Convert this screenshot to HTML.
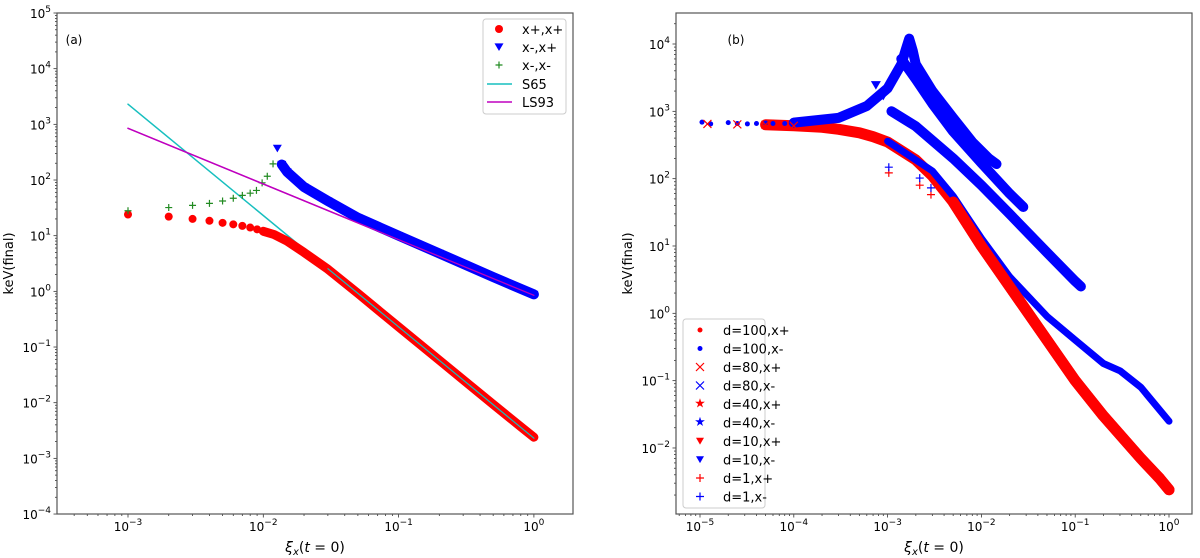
<!DOCTYPE html>
<html><head><meta charset="utf-8">
<style>
html,body{margin:0;padding:0;background:#fff;}
svg{display:block;font-family:"DejaVu Sans","Liberation Sans",sans-serif;}
</style></head>
<body>
<svg id="fig" width="1200" height="558" viewBox="0 0 1200 558" xmlns="http://www.w3.org/2000/svg"></svg>
<script>
// ---------- Panel (a) data ----------
const redX = [0.001,0.002,0.003,0.004,0.005,0.006,0.007,0.008,0.009,0.01,0.012,0.015,0.02,0.03,0.05,0.1,0.2,0.5,0.8,1];
const redY = [24,22,20,18.5,17,16,15,14,13,12,10.5,8,5,2.5,0.92,0.23,0.058,0.0093,0.0037,0.0024];
const greenX = [0.001,0.002,0.003,0.004,0.005,0.006,0.007,0.008,0.0089,0.0098,0.0107,0.0118];
const greenY = [28,32,35,38,42,47,53,58,65,89,117,195];
const blueX = [0.0127,0.0137,0.015,0.02,0.03,0.05,0.1,0.2,0.5,1];
const blueY = [370,190,140,75,42,21,10,4.8,1.8,0.88];
const s65X = [0.001,1];
const s65Y = [2300,0.0023];
const ls93X = [0.001,1];
const ls93Y = [850,0.85];
const aYTicks = [-4,-3,-2,-1,0,1,2,3,4,5];
const aXTicks = [-3,-2,-1,0];

// ---------- Panel (b) data ----------
const flatX = [1.05e-5,1.3e-5,2e-5,2.5e-5,3.2e-5,4e-5,5e-5,6e-5,8e-5,1e-4];
const flatY = [690,650,680,660,650,660,670,660,660,670];
const redBX = [1.2e-5,2.5e-5,5e-5,1e-4,2e-4,3e-4,5e-4,7e-4,1e-3,2e-3,3e-3,5e-3,1e-2,2e-2,5e-2,0.1,0.2,0.5,0.8,1];
const redBY = [650,640,630,610,580,540,480,420,350,190,110,45,10,2.5,0.4,0.1,0.03,0.007,0.0035,0.0024];
const b1X = [1e-4,3e-4,6e-4,1e-3,1.4e-3,1.55e-3,1.7e-3,1.85e-3,2e-3,3e-3,5e-3,8e-3,1.2e-2,1.45e-2];
const b1Y = [680,800,1200,2200,5000,8000,12000,8000,5000,2000,800,350,200,165];
const b2X = [1.4e-3,2e-3,3e-3,5e-3,1e-2,2e-2,2.8e-2];
const b2Y = [6000,3000,1300,500,170,60,38];
const b3X = [1.1e-3,2e-3,5e-3,1e-2,2e-2,5e-2,0.1,0.115];
const b3Y = [1000,600,200,80,30,8,3,2.5];
const triX = [7.5e-4,9e-4];
const triY = [2450,1700];
const b4X = [1e-3,3e-3,5e-3,1e-2,2e-2,5e-2,0.1,0.2,0.3,0.5,1];
const b4Y = [360,130,55,13,3.5,0.9,0.4,0.18,0.14,0.08,0.025];
const plusBlueX = [1.03e-3,2.2e-3,2.9e-3];
const plusBlueY = [148,102,73];
const plusRedX = [1.03e-3,2.2e-3,2.9e-3];
const plusRedY = [122,80,58];
const bYTicks = [-2,-1,0,1,2,3,4];
const bXTicks = [-5,-4,-3,-2,-1,0];

const NS = "http://www.w3.org/2000/svg";
const fig = document.getElementById('fig');
function el(tag, attrs, parent){ const e=document.createElementNS(NS,tag); for(const k in attrs) e.setAttribute(k,attrs[k]); (parent||fig).appendChild(e); return e; }

const A = {x0:57,x1:573,y0:13,y1:514, xs:v=>128+(Math.log10(v)+3)*135.3, ys:v=>13+(5-Math.log10(v))*55.67, xl:-3.52, xh:0.29, yl:-4, yh:5};
const B = {x0:676,x1:1192,y0:13,y1:514, xs:v=>700+(Math.log10(v)+5)*93.8, ys:v=>44+(4-Math.log10(v))*67.33, xl:-5.256, xh:0.245, yl:-2.98, yh:4.46};

function sup(g, x, y, exp, anchor){
  const t = el('text',{x:x,y:y,'font-size':12,'text-anchor':anchor,fill:'#000'},g);
  t.appendChild(document.createTextNode('10'));
  const s = el('tspan',{dy:-6,'font-size':9},t); s.textContent = String(exp).replace('-','\u2212');
  return t;
}
function axes(P, name, xticks, yticks){
  const g = el('g',{});
  
  
  for(let d=Math.floor(P.xl); d<=Math.ceil(P.xh); d++){
    for(let m=1;m<10;m++){
      const lv = d+Math.log10(m); if(lv<P.xl||lv>P.xh) continue;
      const px = P.xs(Math.pow(10,lv));
      el('line',{x1:px,x2:px,y1:P.y1,y2:P.y1+(m==1?3.5:2),stroke:'#333','stroke-width':0.8},g);
    }
  }
  for(let d=Math.floor(P.yl); d<=Math.ceil(P.yh); d++){
    for(let m=1;m<10;m++){
      const lv = d+Math.log10(m); if(lv<P.yl||lv>P.yh) continue;
      const py = P.ys(Math.pow(10,lv));
      el('line',{x1:P.x0,x2:P.x0-(m==1?3.5:2),y1:py,y2:py,stroke:'#333','stroke-width':0.8},g);
    }
  }
  xticks.forEach(e=>{ const t=sup(g,P.xs(Math.pow(10,e)),531,e,'middle');   });
  yticks.forEach(e=>{ const t=sup(g,P.x0-6,P.ys(Math.pow(10,e))+5,e,'end');   });
  const f = el('rect',{x:P.x0,y:P.y0,width:P.x1-P.x0,height:P.y1-P.y0,fill:'none',stroke:'#555','stroke-width':1.2},g);
  
  
  const cx=(P.x0+P.x1)/2;
  const xl = el('text',{x:cx,y:552,'font-size':14,'text-anchor':'middle'},g);
  
  
  const a=el('tspan',{'font-style':'italic'},xl); a.textContent='\u03BE';
  const b=el('tspan',{'font-style':'italic','font-size':10,dy:3},xl); b.textContent='x';
  const c=el('tspan',{dy:-3},xl); c.textContent='(';
  const d=el('tspan',{'font-style':'italic'},xl); d.textContent='t';
  const e2=el('tspan',{},xl); e2.textContent=' = 0)';
  const yl = el('text',{x:0,y:0,'font-size':13,'text-anchor':'middle',transform:`translate(${P.x0-44},${(P.y0+P.y1)/2}) rotate(-90)`},g);
  
  
  yl.textContent='keV(final)';
}
function line(P, xs, ys, color, w, name){
  const pts = xs.map((v,i)=>P.xs(v).toFixed(1)+','+P.ys(ys[i]).toFixed(1)).join(' ');
  const p = el('polyline',{points:pts,fill:'none',stroke:color,'stroke-width':w,'stroke-linejoin':'round','stroke-linecap':'round'});
  
  
}
function marker(type, x, y, color, s, parent){
  let m;
  if(type==='o') m=el('circle',{cx:x,cy:y,r:s,fill:color},parent);
  else if(type==='v') m=el('polygon',{points:`${x-s},${y-s*0.8} ${x+s},${y-s*0.8} ${x},${y+s*0.9}`,fill:color},parent);
  else if(type==='+') m=el('path',{d:`M${x-s},${y}H${x+s}M${x},${y-s}V${y+s}`,stroke:color,'stroke-width':1.2},parent);
  else if(type==='x') m=el('path',{d:`M${x-s},${y-s}L${x+s},${y+s}M${x-s},${y+s}L${x+s},${y-s}`,stroke:color,'stroke-width':1.2},parent);
  else if(type==='*') m=el('text',{x:x,y:y+s*0.9,'font-size':s*3.2,'text-anchor':'middle',fill:color},parent), m.textContent='\u2605';
  return m;
}
function scatter(P, xs, ys, type, color, s, name){
  const g = el('g',{});
  
  
  xs.forEach((v,i)=>{ marker(type,P.xs(v),P.ys(ys[i]),color,s,g); });
}

// ---------- Panel (a) ----------
axes(A,'panel-a',aXTicks,aYTicks);
line(A, s65X, s65Y, '#17bfbf', 1.5, 'line-s65');
line(A, ls93X, ls93Y, '#bf00bf', 1.5, 'line-ls93');
line(A, redX.slice(9), redY.slice(9), '#ff0000', 9, 'series-xpxp-band');
scatter(A, redX, redY, 'o', '#ff0000', 4, 'series-xpxp');
scatter(A, greenX, greenY, '+', '#228b22', 3.5, 'series-xmxm');
line(A, blueX.slice(1), blueY.slice(1), '#0000ff', 10, 'series-xmxp-band');
scatter(A, blueX, blueY, 'v', '#0000ff', 4.5, 'series-xmxp');
line(A, s65X.map(v=>Math.max(v,0.03)), s65Y.map((v,i)=>i==0?2.3e-3/(0.03*0.03):v), '#17bfbf', 1.2, 'line-s65-overlay');
line(A, ls93X, ls93Y, '#bf00bf', 1.3, 'line-ls93-overlay');
let ta = el('text',{x:74,y:44,'font-size':12,'text-anchor':'middle'}); ta.textContent='(a)';



const lgA = el('g',{});


el('rect',{x:483,y:19,width:83,height:95,rx:3,fill:'#fff',stroke:'#ccc','stroke-width':1},lgA);
const laNames=['x+,x+','x-,x+','x-,x-','S65','LS93'];
const laY=[29,47,65,84,102];
laNames.forEach((n,i)=>{
  const g=el('g',{},lgA);
  
  
  if(i==0) marker('o',499,laY[i],'#ff0000',4,g);
  if(i==1) marker('v',499,laY[i],'#0000ff',4.5,g);
  if(i==2) marker('+',499,laY[i],'#228b22',3.5,g);
  if(i==3) el('line',{x1:487,x2:512,y1:laY[i],y2:laY[i],stroke:'#17bfbf','stroke-width':1.5},g);
  if(i==4) el('line',{x1:487,x2:512,y1:laY[i],y2:laY[i],stroke:'#bf00bf','stroke-width':1.5},g);
  const t=el('text',{x:522,y:laY[i]+5,'font-size':13},g); t.textContent=n;
});

// ---------- Panel (b) ----------
axes(B,'panel-b',bXTicks,bYTicks);
line(B, redBX.slice(2), redBY.slice(2), '#ff0000', 11, 'series-d100-xp-band');
line(B, b1X, b1Y, '#0000ff', 10, 'series-b1-band');
line(B, b2X, b2Y, '#0000ff', 10, 'series-b2-band');
line(B, b3X, b3Y, '#0000ff', 10, 'series-b3-band');
line(B, b4X, b4Y, '#0000ff', 7, 'series-b4-band');
line(B, redBX.slice(11), redBY.slice(11), '#ff0000', 11, 'series-red-tail');
scatter(B, flatX, flatY, 'o', '#0000ff', 2.5, 'series-d100-xm-flat');
scatter(B, redBX.slice(0,4), redBY.slice(0,4), 'x', '#ff0000', 4, 'series-d80-xp');
scatter(B, triX, triY, 'v', '#0000ff', 5, 'series-d10-xm');
scatter(B, plusRedX, plusRedY, '+', '#ff0000', 4, 'series-d1-xp');
scatter(B, plusBlueX, plusBlueY, '+', '#0000ff', 4, 'series-d1-xm');
let tb = el('text',{x:736,y:44,'font-size':12,'text-anchor':'middle'}); tb.textContent='(b)';



const lgB = el('g',{});


el('rect',{x:683,y:319,width:82,height:189,rx:3,fill:'#fff',stroke:'#ccc','stroke-width':1},lgB);
const lbNames=['d=100,x+','d=100,x-','d=80,x+','d=80,x-','d=40,x+','d=40,x-','d=10,x+','d=10,x-','d=1,x+','d=1,x-'];
const lbTypes=['o','o','x','x','*','*','v','v','+','+'];
lbNames.forEach((n,i)=>{
  const y=330+i*18.5;
  const g=el('g',{},lgB);
  
  
  const col = i%2==0?'#ff0000':'#0000ff';
  marker(lbTypes[i],700,y,col,lbTypes[i]==='o'?2.5:4,g);
  const t=el('text',{x:723,y:y+5,'font-size':13},g); t.textContent=n;
});
</script>
</body></html>
